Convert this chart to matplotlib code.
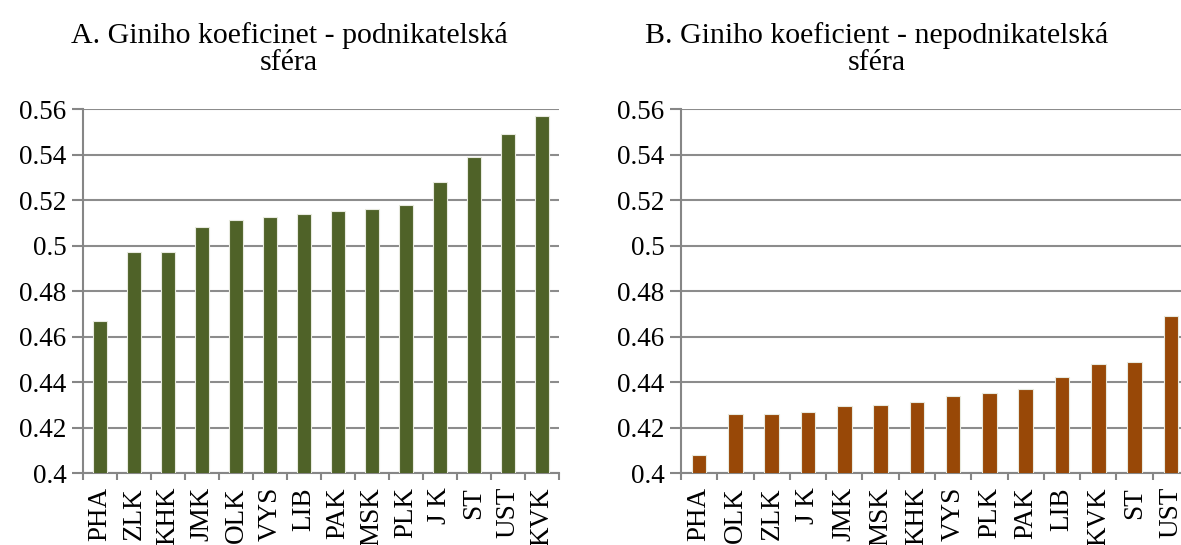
import numpy as np
import matplotlib.pyplot as plt

plt.rcParams['font.family'] = ['Liberation Serif', 'DejaVu Serif']

# data for panel A (business sector)
kraje_a = ['PHA', 'ZLK', 'KHK', 'JMK', 'OLK', 'VYS', 'LIB', 'PAK', 'MSK', 'PLK', 'J K', 'ST', 'UST', 'KVK']
gini_a = [0.467, 0.497, 0.497, 0.508, 0.511, 0.5125, 0.514, 0.515, 0.516, 0.518, 0.528, 0.539, 0.549, 0.557]

# data for panel B (non-business sector)
kraje_b = ['PHA', 'OLK', 'ZLK', 'J K', 'JMK', 'MSK', 'KHK', 'VYS', 'PLK', 'PAK', 'LIB', 'KVK', 'ST', 'UST']
gini_b = [0.408, 0.426, 0.426, 0.427, 0.4295, 0.430, 0.431, 0.434, 0.435, 0.437, 0.442, 0.448, 0.449, 0.469]

yticks = [0.4, 0.42, 0.44, 0.46, 0.48, 0.5, 0.52, 0.54, 0.56]
ytick_labels = ['0.4', '0.42', '0.44', '0.46', '0.48', '0.5', '0.52', '0.54', '0.56']

W, H = 1181, 545
fig = plt.figure(figsize=(W / 100, H / 100), dpi=100)

def panel(rect, labels, values, color):
    ax = fig.add_axes(rect)
    x = np.arange(len(labels))
    ax.bar(x, values, width=0.4, color=color, edgecolor='#e8eadf', linewidth=0.8, zorder=3)
    ax.set_xlim(-0.5, len(labels) - 0.5)
    ax.set_ylim(0.4, 0.56)
    ax.set_yticks(yticks)
    ax.set_yticklabels(ytick_labels)
    ax.set_xticks(x)
    ax.set_xticklabels(labels, rotation=90)
    ax.set_xticks(np.arange(len(labels) + 1) - 0.5, minor=True)
    ax.tick_params(axis='x', which='major', length=0, pad=10, labelsize=19.5)
    ax.tick_params(axis='x', which='minor', length=5, color='#868686', width=1.5)
    ax.tick_params(axis='y', length=8, color='#868686', width=1.5, labelsize=19.5, pad=4)
    ax.grid(axis='y', color='#8c8c8c', linewidth=1.5, zorder=0)
    for s in ['top', 'right']:
        ax.spines[s].set_visible(False)
    for s in ['left', 'bottom']:
        ax.spines[s].set_color('#868686')
        ax.spines[s].set_linewidth(1.5)
    return ax

panel([83 / W, 72 / H, 476 / W, 364 / H], kraje_a, gini_a, '#4f6228')
panel([681 / W, 72 / H, 508 / W, 364 / H], kraje_b, gini_b, '#984807')

fig.text(289 / W, 1 - 35 / H, 'A. Giniho koeficinet - podnikatelská', ha='center', va='center', fontsize=21.5)
fig.text(289 / W, 1 - 63 / H, 'sféra', ha='center', va='center', fontsize=21.5)
fig.text(877 / W, 1 - 35 / H, 'B. Giniho koeficient - nepodnikatelská', ha='center', va='center', fontsize=21.5)
fig.text(877 / W, 1 - 63 / H, 'sféra', ha='center', va='center', fontsize=21.5)

fig.savefig('out.png', dpi=100)
